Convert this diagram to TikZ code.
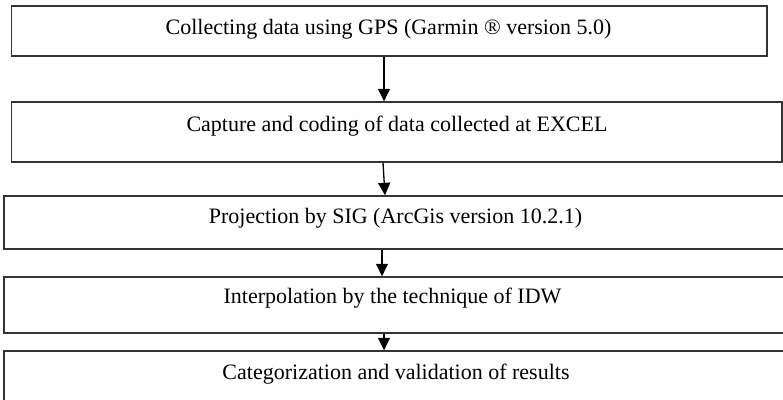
\documentclass[tikz,border=0pt]{standalone}
\usepackage{fontspec}
\setmainfont{Liberation Serif}
\usetikzlibrary{arrows.meta}
\begin{document}
\begin{tikzpicture}[x=1pt,y=-1pt,
  stepbox/.style={draw=black!80,line width=1.4pt,inner sep=0pt,
    minimum width=#1},
  steptext/.style={anchor=base,inner sep=0pt,font=\fontsize{22}{24}\selectfont},
  flow/.style={draw=black,line width=1.3pt,
    -{Triangle[length=12.5pt,width=12pt]}}]
\useasboundingbox (0,0) rectangle (783,399);
\begin{scope}
\clip (0,0) rectangle (783,399);
% step boxes
\node[stepbox=755.5pt,minimum height=50pt] (b1) at (389.25,31) {};
\node[stepbox=770.5pt,minimum height=60pt] (b2) at (396.75,132) {};
\node[stepbox=796pt,minimum height=53pt]   (b3) at (402,222.5) {};
\node[stepbox=796pt,minimum height=56pt]   (b4) at (402,305) {};
\node[stepbox=796pt,minimum height=69pt]   (b5) at (402,385.5) {};
\end{scope}
% step labels
\node[steptext] (t1) at (388.5,34) {Collecting data using GPS (Garmin ® version 5.0)};
\node[steptext] (t2) at (397,131.5) {Capture and coding of data collected at EXCEL};
\node[steptext] (t3) at (395.5,223.5) {Projection by SIG (ArcGis version 10.2.1)};
\node[steptext] (t4) at (392.5,303) {Interpolation by the technique of IDW};
\node[steptext] (t5) at (396,379) {Categorization and validation of results};
% connectors
\draw[flow] ([xshift=-5.25pt]b1.south) -- ([xshift=-12.75pt]b2.north);
\draw[flow] ([xshift=-13.75pt]b2.south) -- ([xshift=-17pt]b3.north);
\draw[flow] ([xshift=-20pt]b3.south) -- ([xshift=-20pt]b4.north);
\draw[flow] ([xshift=-18pt]b4.south) -- ([xshift=-18pt]b5.north);
\end{tikzpicture}
\end{document}
